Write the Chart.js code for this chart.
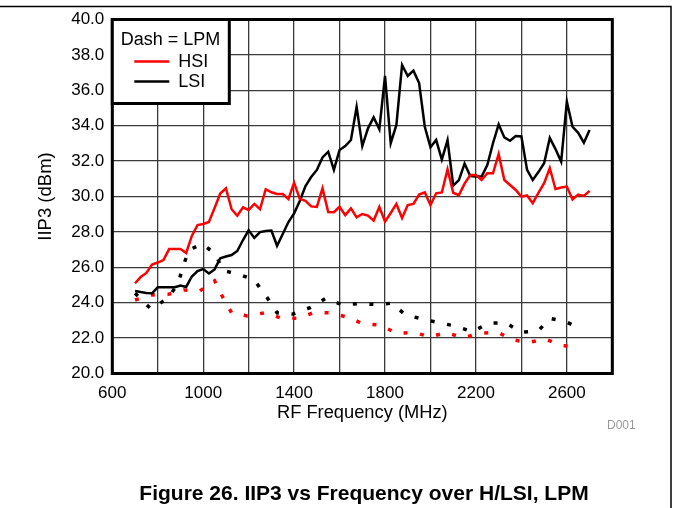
<!DOCTYPE html>
<html>
<head>
<meta charset="utf-8">
<script src="https://cdn.jsdelivr.net/npm/chart.js@4/dist/chart.umd.min.js"></script>
<style>
  html, body { margin: 0; padding: 0; background: #fff; }
  #wrap { position: relative; width: 673px; height: 508px; }
</style>
</head>
<body>
<div id="wrap"><canvas id="chart" width="673" height="508"></canvas></div>
<script>
// RF frequency grid (MHz) for the solid HPM curves
const freq = [
  700, 725, 750, 775, 800, 825, 850, 875, 900, 925,
  950, 975, 1000, 1025, 1050, 1075, 1100, 1125, 1150, 1175,
  1200, 1225, 1250, 1275, 1300, 1325, 1350, 1375, 1400, 1425,
  1450, 1475, 1500, 1525, 1550, 1575, 1600, 1625, 1650, 1675,
  1700, 1725, 1750, 1775, 1800, 1825, 1850, 1875, 1900, 1925,
  1950, 1975, 2000, 2025, 2050, 2075, 2100, 2125, 2150, 2175,
  2200, 2225, 2250, 2275, 2300, 2325, 2350, 2375, 2400, 2425,
  2450, 2475, 2500, 2525, 2550, 2575, 2600, 2625, 2650, 2675,
  2700
];

// IIP3 (dBm), HSI
const hsi = [
  25.10, 25.45, 25.68, 26.16, 26.27, 26.41, 27.03, 27.03, 27.03, 26.81,
  27.77, 28.39, 28.45, 28.56, 29.35, 30.17, 30.46, 29.28, 28.91, 29.39,
  29.24, 29.58, 29.28, 30.41, 30.24, 30.14, 30.14, 29.86, 30.78, 29.86,
  29.76, 29.44, 29.41, 30.46, 29.12, 29.11, 29.42, 28.95, 29.33, 28.82,
  29.01, 28.92, 28.64, 29.41, 28.58, 29.07, 29.58, 28.79, 29.52, 29.58,
  30.11, 30.23, 29.52, 30.18, 30.23, 31.54, 30.21, 30.08, 30.73, 31.21,
  31.21, 30.93, 31.31, 31.31, 32.40, 30.93, 30.65, 30.37, 29.99, 30.06,
  29.62, 30.20, 30.75, 31.61, 30.42, 30.51, 30.56, 29.83, 30.11, 30.03,
  30.32
];

// IIP3 (dBm), LSI
const lsi = [
  24.66, 24.60, 24.55, 24.53, 24.87, 24.87, 24.87, 24.87, 24.97, 24.89,
  25.48, 25.79, 25.90, 25.65, 25.88, 26.51, 26.61, 26.69, 26.92, 27.54,
  28.09, 27.66, 27.99, 28.05, 28.08, 27.22, 27.88, 28.56, 29.05, 29.75,
  30.59, 31.10, 31.50, 32.21, 32.53, 31.50, 32.63, 32.85, 33.19, 35.06,
  32.85, 33.85, 34.47, 33.80, 36.81, 33.01, 34.04, 37.43, 36.81, 37.11,
  36.41, 33.94, 32.78, 33.19, 32.09, 33.19, 30.62, 30.93, 31.86, 31.16,
  31.13, 31.13, 31.78, 33.01, 34.07, 33.34, 33.15, 33.42, 33.39, 31.50,
  30.93, 31.38, 31.88, 33.31, 32.68, 31.97, 35.36, 33.94, 33.60, 33.04,
  33.76
];

// LPM (dashed) curves, read where the dashes sit
const hsiLpmFreq = [
  700, 775, 845, 915, 985, 1050, 1085, 1125, 1195, 1270,
  1345, 1415, 1485, 1560, 1635, 1705, 1780, 1850, 1925, 2000,
  2070, 2145, 2220, 2295, 2365, 2435, 2505, 2580, 2650
];
const hsiLpm = [
  24.15, 24.44, 24.47, 24.72, 24.66, 25.24, 24.34, 23.43, 23.25, 23.43,
  23.12, 23.12, 23.43, 23.43, 23.18, 22.80, 22.74, 22.27, 22.31, 22.08,
  22.31, 22.02, 22.27, 22.33, 21.89, 21.76, 21.95, 21.57, 21.51
];

const lsiLpmFreq = [
  700, 770, 845, 890, 912, 937, 995, 1055, 1085, 1155,
  1225, 1280, 1325, 1395, 1470, 1540, 1615, 1685, 1760, 1830,
  1890, 1965, 2035, 2110, 2185, 2255, 2330, 2400, 2475, 2525,
  2595, 2665
];
const lsiLpm = [
  24.53, 23.65, 24.25, 25.10, 26.07, 26.98, 27.32, 26.75, 25.82, 25.62,
  25.28, 24.31, 23.43, 23.36, 23.72, 24.25, 23.87, 23.95, 23.90, 23.97,
  23.31, 23.08, 22.87, 22.68, 22.36, 22.84, 22.87, 22.33, 22.42, 23.12,
  22.93, 22.51
];

const legendTitle = 'Dash = LPM';
const caption = 'Figure 26. IIP3 vs Frequency over H/LSI, LPM';
const FONT = '"Liberation Sans", Arial, Helvetica, sans-serif';

Chart.defaults.font.family = FONT;
Chart.defaults.color = '#000';

const pts = (xs, ys) => xs.map((x, i) => ({ x: x, y: ys[i] }));

// frame, plot border, legend box and the figure caption
const decor = {
  id: 'decor',
  afterDraw(chart) {
    const { ctx, chartArea: a } = chart;
    ctx.save();

    // page frame (top and right edge)
    ctx.strokeStyle = '#000';
    ctx.lineWidth = 1.5;
    ctx.beginPath();
    ctx.moveTo(0, 6.5);
    ctx.lineTo(671, 6.5);
    ctx.lineTo(671, 508);
    ctx.stroke();

    // plot border
    ctx.lineWidth = 3;
    ctx.strokeRect(a.left, a.top, a.right - a.left, a.bottom - a.top);

    // legend
    const lx = a.left, ly = a.top, lw = 117, lh = 84;
    ctx.fillStyle = '#fff';
    ctx.fillRect(lx, ly, lw, lh);
    ctx.strokeRect(lx, ly, lw, lh);
    ctx.fillStyle = '#000';
    ctx.font = '18px ' + FONT;
    ctx.textBaseline = 'middle';
    ctx.textAlign = 'left';
    ctx.fillText(legendTitle, lx + 8.5, ly + 21);
    chart.data.datasets.filter(d => !d.lpm).forEach((d, k) => {
      const y = ly + 42 + k * 20;
      ctx.strokeStyle = d.borderColor;
      ctx.lineWidth = 2.5;
      ctx.beginPath();
      ctx.moveTo(lx + 22, y);
      ctx.lineTo(lx + 57, y);
      ctx.stroke();
      ctx.fillText(d.label, lx + 66, y + 1);
    });

    // drawing id
    ctx.fillStyle = '#999';
    ctx.font = '12px ' + FONT;
    ctx.fillText('D001', 607, 426);

    // caption
    ctx.fillStyle = '#000';
    ctx.font = 'bold 21px ' + FONT;
    ctx.textAlign = 'center';
    ctx.fillText(caption, 364, 494);
    ctx.restore();
  }
};

new Chart(document.getElementById('chart'), {
  type: 'line',
  data: {
    datasets: [
      { label: 'HSI', data: pts(freq, hsi), borderColor: '#ff0000', borderWidth: 2.5, pointRadius: 0, tension: 0 },
      { label: 'LSI', data: pts(freq, lsi), borderColor: '#000000', borderWidth: 2.5, pointRadius: 0, tension: 0 },
      { label: 'HSI LPM', lpm: true, data: pts(hsiLpmFreq, hsiLpm), borderColor: '#ff0000', borderWidth: 3.5,
        borderDash: [4, 12.6], pointRadius: 0, tension: 0 },
      { label: 'LSI LPM', lpm: true, data: pts(lsiLpmFreq, lsiLpm), borderColor: '#000000', borderWidth: 3.5,
        borderDash: [4, 12.6], pointRadius: 0, tension: 0 }
    ]
  },
  options: {
    responsive: false,
    animation: false,
    devicePixelRatio: 1,
    layout: { padding: { left: 0, top: 19.5, right: 60.7, bottom: 84.5 } },
    plugins: { legend: { display: false }, tooltip: { enabled: false } },
    scales: {
      x: {
        type: 'linear',
        min: 600,
        max: 2800,
        afterFit: s => { s.height = 50; },
        afterBuildTicks: s => {
          s.ticks = [];
          for (let v = 600; v <= 2800; v += 200) s.ticks.push({ value: v });
        },
        ticks: {
          autoSkip: false,
          maxRotation: 0,
          padding: 10,
          font: { size: 17 },
          callback: v => ((v - 600) % 400 === 0 && v < 2800) ? String(v) : ''
        },
        grid: { color: '#3a3a3a', lineWidth: 1.3, drawTicks: false },
        border: { display: false },
        title: { display: true, text: 'RF Frequency (MHz)', font: { size: 18.3 }, padding: { top: 0, bottom: 0 } }
      },
      y: {
        min: 20,
        max: 40,
        afterFit: s => { s.width = 112.3; },
        ticks: {
          stepSize: 2,
          padding: 8,
          font: { size: 17 },
          callback: v => v.toFixed(1)
        },
        grid: { color: '#3a3a3a', lineWidth: 1.3, drawTicks: false },
        border: { display: false },
        title: { display: true, text: 'IIP3 (dBm)', font: { size: 18.5 }, padding: { top: 35, bottom: 0 } }
      }
    }
  },
  plugins: [decor]
});
</script>
</body>
</html>
